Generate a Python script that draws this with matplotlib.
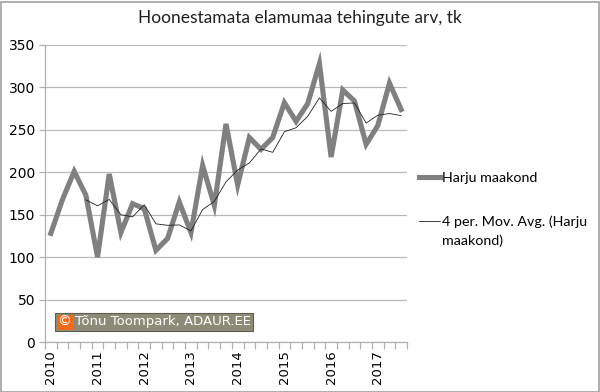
import matplotlib
matplotlib.use("Agg")
import matplotlib.pyplot as plt
import numpy as np
import pandas as pd
from matplotlib.patches import Rectangle

years = ["2010", "2011", "2012", "2013", "2014", "2015", "2016", "2017"]
# quarterly values 2010Q1 .. 2017Q3
harju = [128, 168, 201, 173,
         100, 198, 129, 163,
         157, 108, 122, 165,
         129, 208, 161, 257,
         185, 241, 227, 241,
         282, 260, 281, 328,
         218, 297, 284, 233,
         255, 305, 274]
title = "Hoonestamata elamumaa tehingute arv, tk"
series_name = "Harju maakond"
ma_name_line1 = "4 per. Mov. Avg. (Harju"
ma_name_line2 = "maakond)"
copyright_text = "Tõnu Toompark, ADAUR.EE"

n = len(harju)
x = np.arange(n)
ma = pd.Series(harju).rolling(4).mean()

fig = plt.figure(figsize=(6.0, 3.92), dpi=100)
ax = fig.add_axes([45/600, 1-342/392, 362/600, 297/392])

ax.plot(x, harju, color="#808080", lw=3.7, solid_joinstyle="miter", label=series_name, zorder=3)
ax.plot(x, ma, color="#202020", lw=0.6, label=ma_name_line1, zorder=4)

ax.set_xlim(-0.5, n - 0.5)
ax.set_ylim(0, 350)
ax.set_yticks(np.arange(0, 351, 50))
ax.yaxis.grid(True, color="#b8b8b8", lw=0.9)
ax.set_axisbelow(True)
for s in ["top", "right"]:
    ax.spines[s].set_visible(False)
for s in ["left", "bottom"]:
    ax.spines[s].set_color("#b0b0b0")
    ax.spines[s].set_linewidth(0.9)

# x ticks: boundaries as major ticks, year labels at Q1 centres
ax.set_xticks(np.arange(-0.5, n, 1.0))
ax.set_xticklabels([])
ax.tick_params(axis="x", which="major", length=5, color="#b0b0b0", width=0.9)
ax.set_xticks(np.arange(0, n, 4), minor=True)
ax.set_xticklabels(years, minor=True, rotation=90, fontsize=9.5, family="DejaVu Sans")
ax.tick_params(axis="x", which="minor", length=0, pad=6)
ax.tick_params(axis="y", length=4, color="#b0b0b0", width=0.9, labelsize=10, pad=3)
for lab in ax.get_yticklabels():
    lab.set_family("DejaVu Sans")

fig.text(0.5, 1 - 18/392, title, ha="center", va="center", fontsize=12.5, family="Lato", color="#202020")

fs_leg = 10.3
leg = fig.legend(loc="upper left", bbox_to_anchor=(415/600, 1 - 168/392), frameon=False,
                 prop={"family": "Lato", "size": fs_leg}, handlelength=1.45, handletextpad=0.15,
                 labelspacing=2.15, borderaxespad=0, borderpad=0.3)
fig.canvas.draw()
t2 = leg.get_texts()[1]
bb = t2.get_window_extent()
fig.text(bb.x0 / fig.bbox.width, (bb.y0 - 19) / fig.bbox.height, ma_name_line2,
         ha="left", va="bottom", fontsize=fs_leg, family="Lato", color="black")

# copyright box
bx0, by0, bw, bh = 55/600, 1 - 331/392, 198/600, 18/392
fig.add_artist(Rectangle((bx0, by0), bw, bh, transform=fig.transFigure,
                         facecolor="#8b8b78", edgecolor="#5e5e50", lw=0.8, zorder=5))
fig.add_artist(Rectangle((bx0 + 1.5/600, by0 + 1.5/392), 16/600, bh - 3/392, transform=fig.transFigure,
                         facecolor="#f26a1b", edgecolor="none", zorder=6))
fig.text(bx0 + 9.5/600, by0 + bh/2, "©", ha="center", va="center", color="white",
         fontsize=10, family="DejaVu Sans", zorder=7)
fig.text(bx0 + 20/600, by0 + bh/2, copyright_text, ha="left", va="center", color="white",
         fontsize=9.5, family="DejaVu Sans", zorder=7)

# figure border
fig.add_artist(Rectangle((0.5/600, 0.5/392), 598.5/600, 390/392, transform=fig.transFigure,
                         facecolor="none", edgecolor="#a0a0a0", lw=1.2))

fig.savefig("out.png", dpi=100)
